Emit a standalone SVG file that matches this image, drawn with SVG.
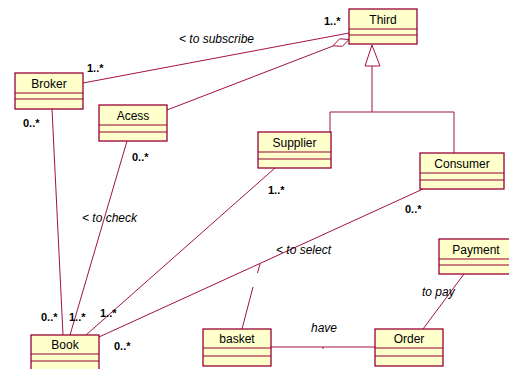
<svg xmlns="http://www.w3.org/2000/svg" width="509" height="369" viewBox="0 0 509 369">
  <style>
    .box { fill: #FFFFCC; stroke: #990033; stroke-width: 1.3; }
    .sep { stroke: #990033; stroke-width: 1.1; }
    .edge { fill: none; stroke: #A0104A; stroke-width: 1; }
    .name { font-family: "Liberation Sans", Arial, sans-serif; font-size: 12px; fill: #000; text-anchor: middle; }
    .mult { font-family: "Liberation Sans", Arial, sans-serif; font-size: 11px; font-weight: bold; fill: #000; }
    .role { font-family: "Liberation Sans", Arial, sans-serif; font-size: 12px; font-style: italic; fill: #000; }
  </style>
  <rect width="509" height="369" fill="#FFFFFF"/>

  <!-- connectors -->
  <g id="connectors">
    <!-- Broker - Third -->
    <line class="edge" x1="83" y1="83" x2="349" y2="33"/>
    <!-- Acess - Third (aggregation) -->
    <line class="edge" x1="167" y1="110" x2="333" y2="46"/>
    <polygon points="349,39.5 339.6,38.8 333,45.8 342.4,46.3" fill="#FFFFFF" stroke="#A0104A" stroke-width="1"/>
    <!-- generalization Supplier/Consumer - Third -->
    <polyline class="edge" points="330,132 330,112 454,112 454,153"/>
    <line class="edge" x1="372" y1="66" x2="372" y2="112"/>
    <polygon points="372,45 365,66 380,66" fill="#FFFFFF" stroke="#A0104A" stroke-width="1"/>
    <!-- Broker - Book -->
    <line class="edge" x1="52" y1="109" x2="63" y2="335"/>
    <!-- Acess - Book -->
    <line class="edge" x1="127" y1="141" x2="70" y2="335"/>
    <!-- Supplier - Book -->
    <line class="edge" x1="275" y1="168" x2="86" y2="335"/>
    <!-- Consumer - Book -->
    <line class="edge" x1="423" y1="189" x2="99" y2="337"/>
    <!-- basket as association class -->
    <line class="edge" x1="242" y1="329" x2="253" y2="287"/>
    <line class="edge" x1="257.5" y1="273" x2="260" y2="264"/>
    <!-- basket - Order -->
    <line class="edge" x1="271" y1="347" x2="375" y2="347"/>
    <line class="edge" x1="323" y1="347" x2="323" y2="349"/>
    <!-- Payment - Order -->
    <line class="edge" x1="464" y1="274" x2="423" y2="329"/>

    <!-- labels -->
    <text class="role" x="179" y="43">&lt; to subscribe</text>
    <text class="mult" x="324" y="25">1..*</text>
    <text class="mult" x="87" y="72">1..*</text>
    <text class="mult" x="23" y="127">0..*</text>
    <text class="mult" x="132" y="161">0..*</text>
    <text class="role" x="82" y="222">&lt; to check</text>
    <text class="mult" x="268" y="194">1..*</text>
    <text class="mult" x="405" y="213">0..*</text>
    <text class="role" x="276" y="254">&lt; to select</text>
    <text class="role" x="422" y="296">to pay</text>
    <text class="role" x="311" y="332">have</text>
    <text class="mult" x="41" y="321">0..*</text>
    <text class="mult" x="69" y="321">1..*</text>
    <text class="mult" x="100" y="317">1..*</text>
    <text class="mult" x="114" y="350">0..*</text>
  </g>

  <!-- classes -->
  <g id="third">
    <rect class="box" x="349" y="9" width="68" height="35"/>
    <line class="sep" x1="349" y1="29" x2="417" y2="29"/>
    <line class="sep" x1="349" y1="35" x2="417" y2="35"/>
    <text class="name" x="383" y="24">Third</text>
  </g>
  <g id="broker">
    <rect class="box" x="15" y="73" width="68" height="36"/>
    <line class="sep" x1="15" y1="93" x2="83" y2="93"/>
    <line class="sep" x1="15" y1="99" x2="83" y2="99"/>
    <text class="name" x="49" y="88">Broker</text>
  </g>
  <g id="acess">
    <rect class="box" x="99" y="105" width="68" height="36"/>
    <line class="sep" x1="99" y1="125" x2="167" y2="125"/>
    <line class="sep" x1="99" y1="132" x2="167" y2="132"/>
    <text class="name" x="133" y="120">Acess</text>
  </g>
  <g id="supplier">
    <rect class="box" x="258" y="132" width="73" height="36"/>
    <line class="sep" x1="258" y1="152" x2="331" y2="152"/>
    <line class="sep" x1="258" y1="159" x2="331" y2="159"/>
    <text class="name" x="294.5" y="147">Supplier</text>
  </g>
  <g id="consumer">
    <rect class="box" x="420" y="153" width="84" height="36"/>
    <line class="sep" x1="420" y1="173" x2="504" y2="173"/>
    <line class="sep" x1="420" y1="180" x2="504" y2="180"/>
    <text class="name" x="462" y="168">Consumer</text>
  </g>
  <g id="payment">
    <rect class="box" x="439" y="239" width="72" height="35"/>
    <line class="sep" x1="439" y1="259" x2="511" y2="259"/>
    <line class="sep" x1="439" y1="265" x2="511" y2="265"/>
    <text class="name" x="476" y="254">Payment</text>
  </g>
  <g id="book">
    <rect class="box" x="31" y="335" width="68" height="40"/>
    <line class="sep" x1="31" y1="354" x2="99" y2="354"/>
    <line class="sep" x1="31" y1="361" x2="99" y2="361"/>
    <text class="name" x="65" y="349">Book</text>
  </g>
  <g id="basket">
    <rect class="box" x="203" y="329" width="68" height="37"/>
    <line class="sep" x1="203" y1="348" x2="271" y2="348"/>
    <line class="sep" x1="203" y1="356" x2="271" y2="356"/>
    <text class="name" x="237" y="343">basket</text>
  </g>
  <g id="order">
    <rect class="box" x="375" y="329" width="68" height="37"/>
    <line class="sep" x1="375" y1="348" x2="443" y2="348"/>
    <line class="sep" x1="375" y1="356" x2="443" y2="356"/>
    <text class="name" x="409" y="343">Order</text>
  </g>
</svg>
